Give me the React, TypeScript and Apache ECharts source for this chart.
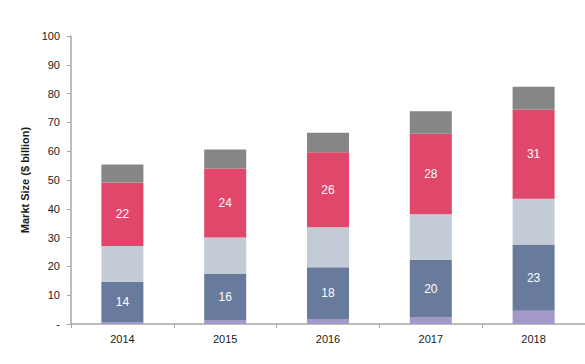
import React, { useEffect, useRef } from "react";
import * as echarts from "echarts";

const categories = ["2014", "2015", "2016", "2017", "2018"];
const purpleValues = [0.7, 1.4, 1.7, 2.3, 4.6];
const blueValues = [14, 16, 18, 20, 23];
const lightGreyValues = [12.4, 12.6, 13.9, 15.8, 15.9];
const redValues = [22, 24, 26, 28, 31];
const greyValues = [6.3, 6.6, 6.8, 7.8, 7.9];

const yTicks = { min: 0, max: 100, interval: 10 };

export default function App() {
  const ref = useRef<HTMLDivElement>(null);
  useEffect(() => {
    if (!ref.current) return;
    const chart = echarts.init(ref.current, undefined, { renderer: "svg" });
    const font = "Liberation Sans, Arial, sans-serif";
    const mk = (name: string, data: number[], color: string, showLabel: boolean) => ({
      name,
      type: "bar",
      stack: "total",
      data,
      barWidth: 42,
      itemStyle: { color },
      label: {
        show: showLabel,
        position: "inside",
        color: "#ffffff",
        fontFamily: font,
        fontSize: 12,
      },
      emphasis: { disabled: true },
    });
    chart.setOption({
      animation: false,
      backgroundColor: "#ffffff",
      grid: { left: 71, right: -7, top: 36, bottom: 40, containLabel: false },
      xAxis: {
        type: "category",
        data: categories,
        axisLine: { lineStyle: { color: "#a6a6a6", width: 1.5 } },
        axisTick: { show: true, length: 4, lineStyle: { color: "#a6a6a6" } },
        axisLabel: { color: "#1a1a1a", fontFamily: font, fontSize: 11, margin: 9 },
      },
      yAxis: {
        type: "value",
        min: yTicks.min,
        max: yTicks.max,
        interval: yTicks.interval,
        name: "Markt Size ($ billion)",
        nameLocation: "middle",
        nameGap: 38,
        nameTextStyle: { color: "#1a1a1a", fontFamily: font, fontSize: 11, fontWeight: "bold" },
        axisLine: { show: true, lineStyle: { color: "#a6a6a6", width: 1.5 } },
        axisTick: { show: true, length: 4, lineStyle: { color: "#a6a6a6" } },
        splitLine: { show: false },
        axisLabel: {
          color: "#1a1a1a",
          fontFamily: font,
          fontSize: 11,
          margin: 11,
          formatter: (v: number) => (v === 0 ? "-" : String(v)),
        },
      },
      series: [
        mk("Purple", purpleValues, "#a398c9", false),
        mk("Blue", blueValues, "#687b9d", true),
        mk("Light grey", lightGreyValues, "#c3cbd6", false),
        mk("Red", redValues, "#e0476a", true),
        mk("Grey", greyValues, "#868686", false),
      ],
    });
    return () => chart.dispose();
  }, []);
  return (
    <div
      ref={ref}
      style={{ position: "fixed", left: 0, top: 0, width: 585, height: 364 }}
    />
  );
}
